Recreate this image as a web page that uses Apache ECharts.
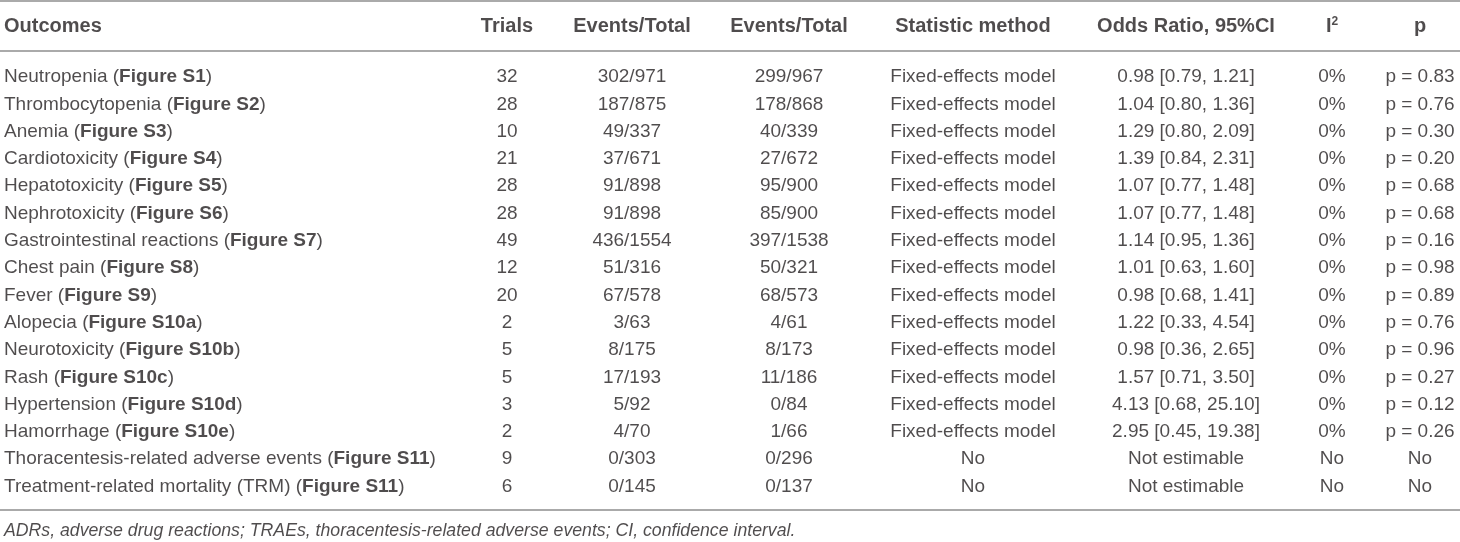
<!DOCTYPE html>
<html>
<head>
<meta charset="utf-8">
<script src="https://cdn.jsdelivr.net/npm/echarts@6/dist/echarts.min.js"></script>
<style>
html,body{margin:0;padding:0;background:#fff;}
#main{width:1460px;height:542px;}
</style>
</head>
<body>
<div id="main"></div>
<script>
// ---------- DATA ----------
const headers = ['Outcomes', 'Trials', 'Events/Total', 'Events/Total', 'Statistic method', 'Odds Ratio, 95%CI', 'I2', 'p'];
const outcomes = ['Neutropenia', 'Thrombocytopenia', 'Anemia', 'Cardiotoxicity', 'Hepatotoxicity', 'Nephrotoxicity',
  'Gastrointestinal reactions', 'Chest pain', 'Fever', 'Alopecia', 'Neurotoxicity', 'Rash', 'Hypertension',
  'Hamorrhage', 'Thoracentesis-related adverse events', 'Treatment-related mortality (TRM)'];
const figures = ['Figure S1', 'Figure S2', 'Figure S3', 'Figure S4', 'Figure S5', 'Figure S6', 'Figure S7',
  'Figure S8', 'Figure S9', 'Figure S10a', 'Figure S10b', 'Figure S10c', 'Figure S10d', 'Figure S10e',
  'Figure S11', 'Figure S11'];
const trials = [32, 28, 10, 21, 28, 28, 49, 12, 20, 2, 5, 5, 3, 2, 9, 6];
const eventsA = ['302/971', '187/875', '49/337', '37/671', '91/898', '91/898', '436/1554', '51/316', '67/578',
  '3/63', '8/175', '17/193', '5/92', '4/70', '0/303', '0/145'];
const eventsB = ['299/967', '178/868', '40/339', '27/672', '95/900', '85/900', '397/1538', '50/321', '68/573',
  '4/61', '8/173', '11/186', '0/84', '1/66', '0/296', '0/137'];
const methods = ['Fixed-effects model', 'Fixed-effects model', 'Fixed-effects model', 'Fixed-effects model',
  'Fixed-effects model', 'Fixed-effects model', 'Fixed-effects model', 'Fixed-effects model', 'Fixed-effects model',
  'Fixed-effects model', 'Fixed-effects model', 'Fixed-effects model', 'Fixed-effects model', 'Fixed-effects model',
  'No', 'No'];
const oddsRatios = ['0.98 [0.79, 1.21]', '1.04 [0.80, 1.36]', '1.29 [0.80, 2.09]', '1.39 [0.84, 2.31]',
  '1.07 [0.77, 1.48]', '1.07 [0.77, 1.48]', '1.14 [0.95, 1.36]', '1.01 [0.63, 1.60]', '0.98 [0.68, 1.41]',
  '1.22 [0.33, 4.54]', '0.98 [0.36, 2.65]', '1.57 [0.71, 3.50]', '4.13 [0.68, 25.10]', '2.95 [0.45, 19.38]',
  'Not estimable', 'Not estimable'];
const i2Values = ['0%', '0%', '0%', '0%', '0%', '0%', '0%', '0%', '0%', '0%', '0%', '0%', '0%', '0%', 'No', 'No'];
const pValues = ['p = 0.83', 'p = 0.76', 'p = 0.30', 'p = 0.20', 'p = 0.68', 'p = 0.68', 'p = 0.16', 'p = 0.98',
  'p = 0.89', 'p = 0.76', 'p = 0.96', 'p = 0.27', 'p = 0.12', 'p = 0.26', 'No', 'No'];
const footnote = 'ADRs, adverse drug reactions; TRAEs, thoracentesis-related adverse events; CI, confidence interval.';

// ---------- LAYOUT ----------
const W = 1460, H = 542;
const colX = [4, 507, 632, 789, 973, 1186, 1332, 1420];
const colAlign = ['left', 'center', 'center', 'center', 'center', 'center', 'center', 'center'];
const headerY = 26.5, rowTop = 77, rowStep = 27.3, footY = 531;
const lineYs = [1, 51, 510];
const FONT = '"Liberation Sans", Arial, sans-serif';
const TXT = '#231f20';
const FS = 19, HFS = 20;

const columns = [
  outcomes.map((o, i) => '{n|' + o + ' (}{b|' + figures[i] + '}{n|)}'),
  trials.map(String), eventsA, eventsB, methods, oddsRatios, i2Values, pValues
];

const rich = {
  n: {fontFamily: FONT, fontSize: FS, color: TXT},
  b: {fontFamily: FONT, fontSize: FS, color: TXT, fontWeight: 'bold'},
  h: {fontFamily: FONT, fontSize: HFS, color: TXT, fontWeight: 'bold'},
  sup: {fontFamily: FONT, fontSize: 12, color: TXT, fontWeight: 'bold', padding: [0, 0, 10, 0]},
  f: {fontFamily: FONT, fontSize: 17.7, color: TXT, fontStyle: 'italic'}
};

function textSeries(name, points, texts, align, style) {
  return {
    name, type: 'scatter', symbolSize: 1, silent: true,
    itemStyle: {color: 'rgba(0,0,0,0)'},
    data: points.map((p, i) => ({value: p, txt: texts[i]})),
    label: {
      show: true, position: 'inside', align: align, verticalAlign: 'middle',
      formatter: (prm) => style ? '{' + style + '|' + prm.data.txt + '}' : prm.data.txt,
      rich: rich
    },
    labelLayout: {hideOverlap: false},
    z: 5
  };
}

const series = [];
// header row
series.push(textSeries('header', headers.map((h, c) => [colX[c], headerY]),
  headers.map(h => h === 'I2' ? '{h|I}{sup|2}' : '{h|' + h + '}'), 'center', null));
series[0].data.forEach((d, c) => { d.label = {align: colAlign[c]}; });
// body columns
columns.forEach((col, c) => {
  const pts = col.map((_, i) => [colX[c], rowTop + i * rowStep]);
  const isRich = c === 0;
  series.push(textSeries('col' + c, pts, col, colAlign[c], isRich ? null : 'n'));
});
// footnote
series.push(textSeries('foot', [[colX[0], footY]], [footnote], 'left', 'f'));
// rules
series.push({
  type: 'scatter', data: [], silent: true,
  markLine: {
    silent: true, symbol: 'none', animation: false,
    label: {show: false},
    lineStyle: {color: '#aaaaaa', width: 2, type: 'solid'},
    data: lineYs.map(y => ({yAxis: y}))
  }
});

const chart = echarts.init(document.getElementById('main'), null, {renderer: 'canvas'});
chart.setOption({
  animation: false,
  backgroundColor: '#ffffff',
  grid: {left: 0, right: 0, top: 0, bottom: 0},
  xAxis: {type: 'value', min: 0, max: W, show: false},
  yAxis: {type: 'value', min: 0, max: H, inverse: true, show: false},
  series: series
});
</script>
</body>
</html>
